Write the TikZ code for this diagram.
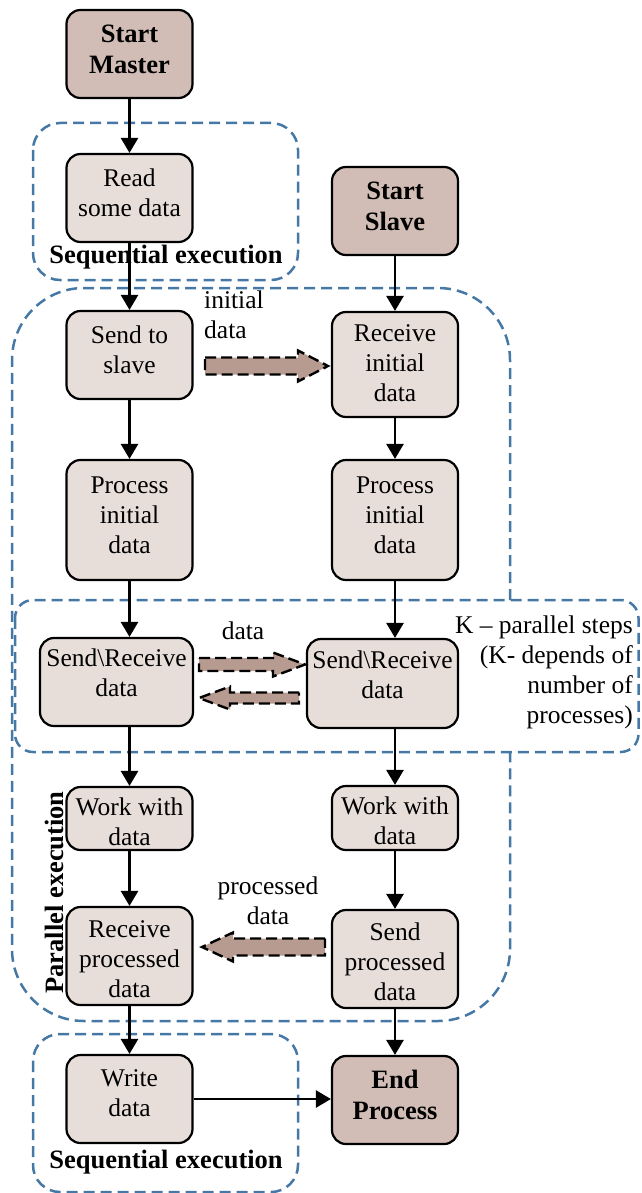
\documentclass[tikz,border=0pt]{standalone}
\usepackage{fontspec}
\setmainfont{Liberation Serif}
\usetikzlibrary{arrows.meta}

\definecolor{termfill}{RGB}{209,189,181}
\definecolor{stepfill}{RGB}{231,222,218}
\definecolor{msgfill}{RGB}{183,155,145}
\definecolor{zone}{RGB}{70,120,165}

% invisible struts that set the vertical placement of box texts
\newcommand\topgap[1]{\rule{0pt}{#1pt}}
\newcommand\botgap[1]{\rule[-#1pt]{0pt}{#1pt}}

\begin{document}
\begin{tikzpicture}[x=1pt,y=-1pt,
  every node/.style={font=\fontsize{25.5}{30}\selectfont, inner sep=0pt},
  boldtext/.style={font=\fontsize{26.5}{31}\selectfont\bfseries},
  stepbox/.style={draw, line width=2.2pt, rounded corners=14pt, fill=stepfill,
                  minimum width=126pt, align=center},
  termbox/.style={stepbox, fill=termfill, boldtext},
  flow/.style={line width=2.6pt, -{Triangle[length=15pt,width=17pt]}},
  zonebox/.style={draw=zone, line width=2.5pt, dash pattern=on 11pt off 6pt},
  msg/.style={draw, fill=msgfill, line width=2.4pt, dash pattern=on 11pt off 5pt, line join=miter},
]
\useasboundingbox (0,0) rectangle (641,1193);

% execution zones
\draw[zonebox, rounded corners=27pt] (33,123) rectangle (298,280);
\draw[zonebox, rounded corners=72pt] (510,600) -- (510,288) -- (12,288) -- (12,1021) -- (510,1021) -- (510,752);
\draw[zonebox, rounded corners=18pt] (15,600) rectangle (638.5,752);
\draw[zonebox, rounded corners=27pt] (33,1034) rectangle (298,1192);

% master column
\node[termbox, minimum height=88pt]  (sm)  at (129.5,54)   {\topgap{20}Start\\Master\botgap{11}};
\node[stepbox, minimum height=88pt]  (rd)  at (129.5,198)  {\topgap{20}Read\\some data\botgap{14}};
\node[stepbox, minimum height=88pt]  (sts) at (129.5,355)  {\topgap{20}Send to\\slave\botgap{14}};
\node[stepbox, minimum height=120pt] (pl)  at (129.5,520)  {\topgap{20}Process\\initial\\data\botgap{13}};
\node[stepbox, minimum height=88pt, minimum width=153pt] (srl) at (116.5,682) {\topgap{20}Send\textbackslash Receive\\data\botgap{22}};
\node[stepbox, minimum height=63pt]  (wl)  at (129.5,818.5){\topgap{25}Work with\\data};
\node[stepbox, minimum height=98pt]  (rpd) at (129.5,956)  {\topgap{23}Receive\\processed\\data};
\node[stepbox, minimum height=88pt]  (wd)  at (129.5,1099) {\topgap{20}Write\\data\botgap{15}};

% slave column
\node[termbox, minimum height=88pt]  (ss)  at (395,211)    {\topgap{20}Start\\Slave\botgap{13}};
\node[stepbox, minimum height=105pt] (rid) at (395,364.5)  {\topgap{20}Receive\\initial\\data\botgap{6}};
\node[stepbox, minimum height=120pt] (pr)  at (395,520)    {\topgap{20}Process\\initial\\data\botgap{13}};
\node[stepbox, minimum height=89pt, minimum width=151pt] (srr) at (382.5,683.5) {\topgap{20}Send\textbackslash Receive\\data\botgap{20}};
\node[stepbox, minimum height=64pt]  (wr)  at (395,818)    {\topgap{24}Work with\\data};
\node[stepbox, minimum height=98pt]  (spd) at (395,959)    {\topgap{23}Send\\processed\\data};
\node[termbox, minimum height=88pt]  (ep)  at (395,1100)   {\topgap{20}End\\Process\botgap{13}};

% control flow
\draw[flow] (sm.south)  -- (rd.north);
\draw[flow] (rd.south)  -- (sts.north);
\draw[flow] (sts.south) -- (pl.north);
\draw[flow] (pl.south)  -- (pl.south |- srl.north);
\draw[flow] (srl.south -| wl.north) -- (wl.north);
\draw[flow] (wl.south)  -- (rpd.north);
\draw[flow] (rpd.south) -- (wd.north);
\draw[flow] (ss.south)  -- (rid.north);
\draw[flow] (rid.south) -- (pr.north);
\draw[flow] (pr.south)  -- (pr.south |- srr.north);
\draw[flow] (srr.south -| wr.north) -- (wr.north);
\draw[flow] (wr.south)  -- (spd.north);
\draw[flow] (spd.south) -- (ep.north);
\draw[flow] (wd.east)   -- (wd.east -| ep.west);

% messages between master and slave
\draw[msg] (205,357.5) -- (298,357.5) -- (298,350.5) -- (328,366) -- (298,381.5) -- (298,374.5) -- (205,374.5) -- cycle;
\draw[msg] (199,658) -- (273,658) -- (273,652.5) -- (305,664.5) -- (273,676.5) -- (273,671) -- (199,671) -- cycle;
\draw[msg] (299,692.5) -- (230,692.5) -- (230,686.5) -- (199,698) -- (230,709.5) -- (230,703.5) -- (299,703.5) -- cycle;
\draw[msg] (325,938.5) -- (233,938.5) -- (233,932.5) -- (202,947) -- (233,961.5) -- (233,955.5) -- (325,955.5) -- cycle;

% labels
\node[anchor=west, align=left] (lblinit) at (204,314.3) {initial\\data};
\node[anchor=base] (lbldata) at (243,639) {data};
\node[align=center] (lblproc) at (268,900.3) {processed\\data};
\node[anchor=east, align=right] (ktext) at (633,672) {K – parallel steps\\(K- depends of\\number of\\processes)};
\node[anchor=base, boldtext] (seqtop) at (166,263) {Sequential execution};
\node[anchor=base, boldtext] (seqbot) at (166,1168) {Sequential execution};
\node[anchor=base, boldtext, rotate=90] (parlbl) at (63,892.5) {Parallel execution};
\end{tikzpicture}
\end{document}
